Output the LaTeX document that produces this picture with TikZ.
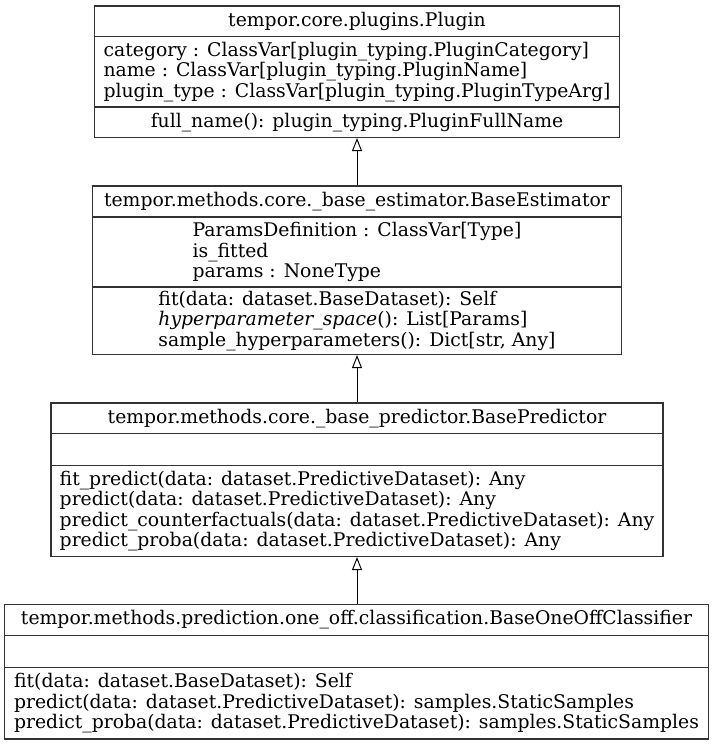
\documentclass[tikz,border=0pt]{standalone}
\usepackage{fontspec}
\setmainfont{DejaVu Serif}
\usetikzlibrary{arrows.meta}

% class-diagram text: tight graphviz-like line pitch
\newcommand\umltext{\fontsize{18.8pt}{20.5pt}\selectfont\lineskiplimit=-30pt\relax}

\tikzset{
  compart/.style={draw=black!80, line width=1.1pt, inner sep=0pt, align=left,
                  font=\umltext, text=black},
  inherit/.style={-{Triangle[open,length=13pt,width=10pt]}, line width=1pt, draw=black},
}

\begin{document}
\begin{tikzpicture}[x=1pt,y=-1pt]
  \fill[white] (0,0) rectangle (713,749);
  \useasboundingbox (0,0) rectangle (713,749);

  % tempor.core.plugins.Plugin
  \node[compart, minimum width=525pt, minimum height=30.5pt] (plugT) at (357,21.25)
    {tempor.core.plugins.Plugin};
  \node[compart, minimum width=525pt, minimum height=70.5pt] (plugA) at (357,71.75)
    {category : ClassVar[plugin\_typing.PluginCategory]\\
     name : ClassVar[plugin\_typing.PluginName]\\
     plugin\_type : ClassVar[plugin\_typing.PluginTypeArg]};
  \node[compart, minimum width=525pt, minimum height=30.5pt] (plugM) at (357,122.25)
    {full\_name(): plugin\_typing.PluginFullName};

  % BaseEstimator
  \node[compart, minimum width=529pt, minimum height=31pt] (estT) at (357,201.5)
    {tempor.methods.core.\_base\_estimator.BaseEstimator};
  \node[compart, minimum width=529pt, minimum height=70pt] (estA) at (357,252)
    {ParamsDefinition : ClassVar[Type]\\
     is\_fitted\\
     params : NoneType};
  \node[compart, minimum width=529pt, minimum height=67.5pt] (estM) at (357,320.75)
    {fit(data: dataset.BaseDataset): Self\\
     \textit{hyperparameter\_space}(): List[Params]\\
     sample\_hyperparameters(): Dict[str, Any]};

  % BasePredictor
  \node[compart, minimum width=612pt, minimum height=30.5pt] (predT) at (357,418.25)
    {tempor.methods.core.\_base\_predictor.BasePredictor};
  \node[compart, minimum width=612pt, minimum height=32pt] (predA) at (357,449.5) {};
  \node[compart, minimum width=612pt, minimum height=91pt] (predM) at (357,511)
    {fit\_predict(data: dataset.PredictiveDataset): Any\\
     predict(data: dataset.PredictiveDataset): Any\\
     predict\_counterfactuals(data: dataset.PredictiveDataset): Any\\
     predict\_proba(data: dataset.PredictiveDataset): Any};

  % BaseOneOffClassifier
  \node[compart, minimum width=704pt, minimum height=31pt] (clsT) at (356.5,620)
    {tempor.methods.prediction.one\_off.classification.BaseOneOffClassifier};
  \node[compart, minimum width=704pt, minimum height=32pt] (clsA) at (356.5,651.5) {};
  \node[compart, minimum width=704pt, minimum height=71.5pt] (clsM) at (356.5,703.25)
    {fit(data: dataset.BaseDataset): Self\\
     predict(data: dataset.PredictiveDataset): samples.StaticSamples\\
     predict\_proba(data: dataset.PredictiveDataset): samples.StaticSamples};

  % generalisation arrows
  \draw[inherit] (estT.north) -- (plugM.south);
  \draw[inherit] (predT.north) -- (estM.south);
  \draw[inherit] (clsT.north -| predM.south) -- (predM.south);
\end{tikzpicture}
\end{document}
